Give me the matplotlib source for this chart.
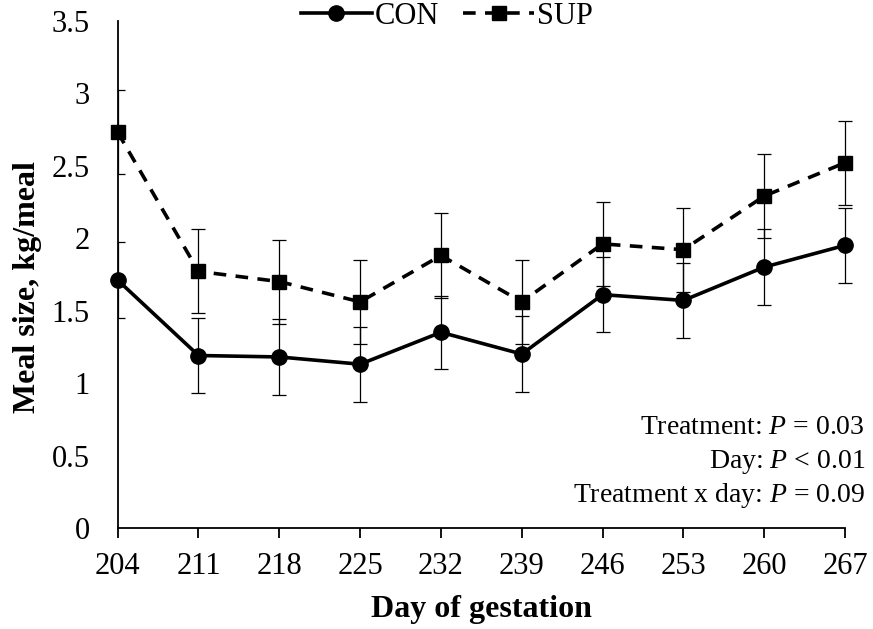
import matplotlib.pyplot as plt
import numpy as np

plt.rcParams['font.family'] = 'Liberation Serif'
plt.rcParams['mathtext.fontset'] = 'custom'
plt.rcParams['mathtext.rm'] = 'Liberation Serif'
plt.rcParams['mathtext.it'] = 'Liberation Serif:italic'

days = [204, 211, 218, 225, 232, 239, 246, 253, 260, 267]
con = [1.71, 1.19, 1.18, 1.13, 1.35, 1.20, 1.61, 1.57, 1.80, 1.95]
con_se = [0.26, 0.26, 0.26, 0.26, 0.25, 0.26, 0.26, 0.26, 0.26, 0.26]
sup = [2.73, 1.77, 1.70, 1.56, 1.88, 1.56, 1.96, 1.92, 2.29, 2.52]
sup_se = [0.29, 0.29, 0.29, 0.29, 0.29, 0.29, 0.29, 0.29, 0.29, 0.29]

fig = plt.figure(figsize=(8.73, 6.29), dpi=100)
ax = fig.add_axes([0.1348, 0.1606, 0.8464, 0.8065])

# error bars first so the lines and markers sit on top
ax.errorbar(days, con, yerr=con_se, fmt='none', ecolor='black',
            elinewidth=0.9, capsize=4.7, capthick=0.9, zorder=2)
ax.errorbar(days, sup, yerr=sup_se, fmt='none', ecolor='black',
            elinewidth=0.9, capsize=4.7, capthick=0.9, zorder=2)

l1, = ax.plot(days, con, '-', color='black', lw=2.6, marker='o', ms=11,
              clip_on=False, zorder=3, label='CON')
l2, = ax.plot(days, sup, '--', color='black', lw=2.6, marker='s', ms=10,
              dashes=(3.5, 2.6), clip_on=False, zorder=3, label='SUP')

ax.set_xlim(204, 268)
ax.set_ylim(0, 3.5)
ax.set_xticks(days)
ax.set_yticks(np.arange(0, 3.51, 0.5))
ax.set_yticklabels(['0', '0.5', '1', '1.5', '2', '2.5', '3', '3.5'])

for s in ['top', 'right']:
    ax.spines[s].set_visible(False)
ax.spines['bottom'].set_bounds(204, 267)
ax.spines['left'].set_linewidth(1.3)
ax.spines['bottom'].set_linewidth(1.3)

ax.tick_params(axis='x', direction='out', length=7.5, width=1.3,
               labelsize=22, pad=10)
ax.tick_params(axis='y', length=0, labelsize=22, pad=20)

ax.set_xlabel('Day of gestation', fontsize=23, fontweight='bold', va='center')
ax.xaxis.set_label_coords(0.4917, -0.16)
ax.set_ylabel('Meal size, kg/meal', fontsize=23, fontweight='bold',
              va='center')
ax.yaxis.set_label_coords(-0.1225, 0.475)

ax.legend(handles=[l1, l2], loc='center', ncol=2, frameon=False,
          fontsize=22, handlelength=2.3, columnspacing=0.8,
          handletextpad=0.1,
          bbox_to_anchor=(447 / 873, 1 - 16 / 629),
          bbox_transform=fig.transFigure)

stats = ['Treatment: $\\mathit{P}$ = 0.03',
         'Day: $\\mathit{P}$ < 0.01',
         'Treatment x day: $\\mathit{P}$ = 0.09']
for i, s in enumerate(stats):
    fig.text(865 / 873, 1 - (428 + i * 33.5) / 629, s, ha='right',
             va='center', fontsize=20)

plt.savefig('out.png', dpi=100)
